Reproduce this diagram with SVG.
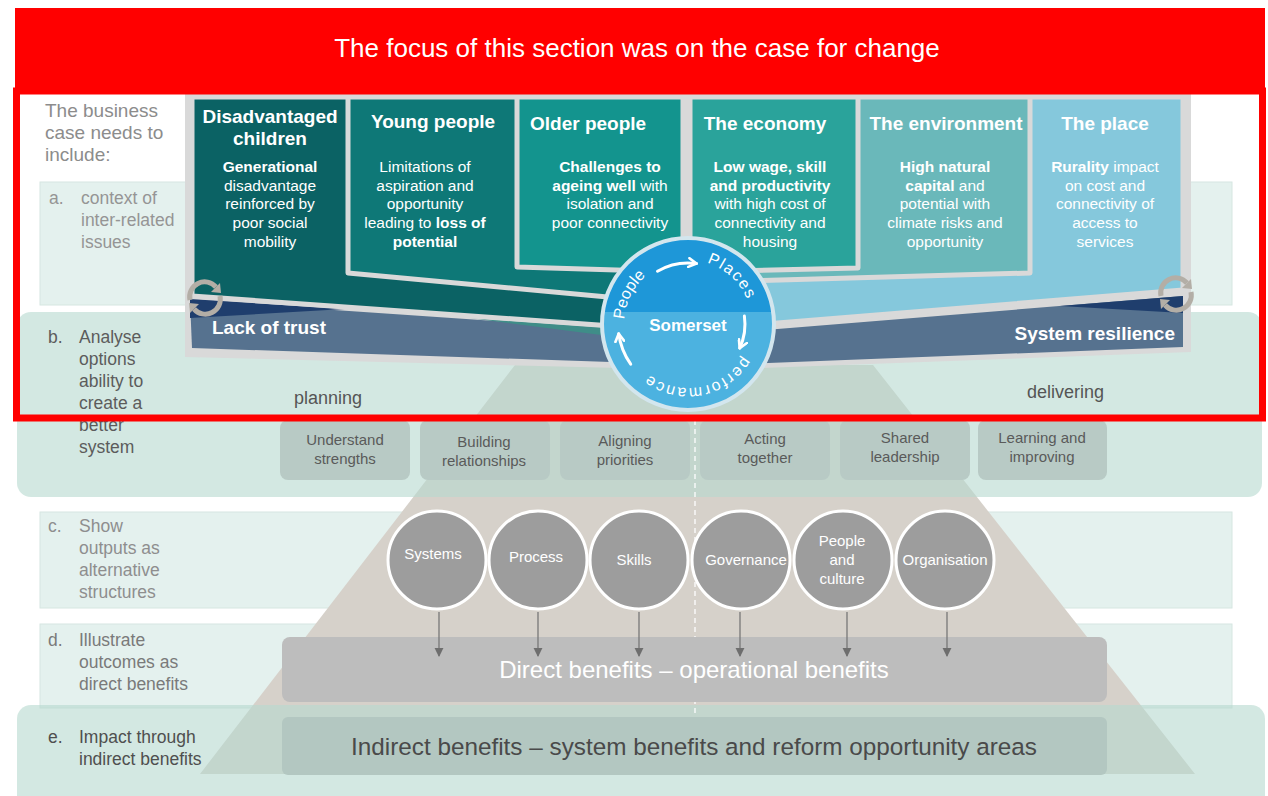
<svg xmlns="http://www.w3.org/2000/svg" width="1268" height="796" viewBox="0 0 1268 796">
<defs>
<style>
text{font-family:"Liberation Sans",Arial,sans-serif}
.hd{font-size:19px;font-weight:bold;fill:#fff}
.bd{font-size:15.5px;fill:#fff;text-anchor:middle}
.b{font-weight:bold}
.ps{fill:#b8cac5}
.pt{font-size:15px;fill:#5a5a5a;text-anchor:middle}
.oc{fill:#9d9d9d;stroke:#fff;stroke-width:3}
.ot{font-size:15px;fill:#fff;text-anchor:middle}
.col{stroke:#d9d9d9;stroke-width:5;stroke-linejoin:round}
.row{fill:#e4f1ee;stroke:#d6e6e1;stroke-width:1}
.ov{fill:#b5d9cf;opacity:0.6}
.lb{font-size:17.5px}
.rt{font-size:16px;fill:#fff}
.gl{stroke:#777;stroke-width:1.3;fill:none}
.wl{stroke:#fff;stroke-width:3;fill:none;stroke-linecap:round}
</style>
<marker id="ga" viewBox="0 0 10 10" refX="9" refY="5" markerWidth="9" markerHeight="10" markerUnits="userSpaceOnUse" orient="auto"><path d="M0,0 L10,5 L0,10 z" fill="#6e6e6e"/></marker>
<marker id="wa" viewBox="0 0 10 10" refX="8" refY="5" markerWidth="11" markerHeight="11" markerUnits="userSpaceOnUse" orient="auto"><path d="M1,1 L8,5 L1,9" fill="none" stroke="#fff" stroke-width="2.4" stroke-linecap="round" stroke-linejoin="round"/></marker>
<path id="ring" d="M 624 324 A 64 64 0 1 1 752 324 A 64 64 0 1 1 624 324" fill="none"/>
<clipPath id="cc"><circle cx="688" cy="324" r="86"/></clipPath>
<g id="rc">
<path d="M -15 2 A 15 15 0 0 1 11 -11" fill="none" stroke="#b3aea6" stroke-width="5"/>
<path d="M 15 -2 A 15 15 0 0 1 -11 11" fill="none" stroke="#b3aea6" stroke-width="5"/>
<polygon points="16,-5 15,-15 6,-6" fill="#b3aea6"/>
<polygon points="-16,5 -15,15 -6,6" fill="#b3aea6"/>
</g>
</defs>

<rect x="0" y="0" width="1268" height="796" fill="#fff"/>

<g id="rows">
<rect id="row-a" class="row" x="40" y="182" width="1192" height="123"/>
<rect id="row-c" class="row" x="40" y="512" width="1192" height="96"/>
<rect id="row-d" class="row" x="40" y="624" width="1192" height="84"/>
<polygon id="pyramid" points="515,365 873,365 1195,774 200,774" fill="#d6d1ca"/>
<rect id="row-b" class="ov" x="17" y="312" width="1245" height="185" rx="14"/>
<rect id="row-e" class="ov" x="17" y="705" width="1248" height="110" rx="14"/>
</g>

<g id="labels">
<text x="45" y="117" font-size="19" fill="#8c8c8c">The business</text>
<text x="45" y="139" font-size="19" fill="#8c8c8c">case needs to</text>
<text x="45" y="161" font-size="19" fill="#8c8c8c">include:</text>
<g class="lb" fill="#959595">
<text x="49" y="204">a.</text><text x="81" y="204">context of</text><text x="81" y="226">inter-related</text><text x="81" y="248">issues</text>
</g>
<g class="lb" fill="#5c5c5c">
<text x="48" y="343">b.</text><text x="79" y="343">Analyse</text><text x="79" y="365">options</text><text x="79" y="387">ability to</text><text x="79" y="409">create a</text><text x="79" y="431">better</text><text x="79" y="453">system</text>
</g>
<g class="lb" fill="#8e8e8e">
<text x="48" y="532">c.</text><text x="79" y="532">Show</text><text x="79" y="554">outputs as</text><text x="79" y="576">alternative</text><text x="79" y="598">structures</text>
</g>
<g class="lb" fill="#7a7a7a">
<text x="48" y="646">d.</text><text x="79" y="646">Illustrate</text><text x="79" y="668">outcomes as</text><text x="79" y="690">direct benefits</text>
</g>
<g class="lb" fill="#4f4f4f">
<text x="48" y="743">e.</text><text x="79" y="743">Impact through</text><text x="79" y="765">indirect  benefits</text>
</g>
<text x="294" y="404" font-size="18" fill="#555">planning</text>
<text x="1027" y="398" font-size="18" fill="#555">delivering</text>
</g>

<g id="steps">
<g id="step-1"><rect class="ps" x="280" y="420" width="130" height="60" rx="8"/><text class="pt" x="345" y="445">Understand</text><text class="pt" x="345" y="464">strengths</text></g>
<g id="step-2"><rect class="ps" x="420" y="420" width="130" height="60" rx="8"/><text class="pt" x="484" y="447">Building</text><text class="pt" x="484" y="466">relationships</text></g>
<g id="step-3"><rect class="ps" x="560" y="420" width="130" height="60" rx="8"/><text class="pt" x="625" y="446">Aligning</text><text class="pt" x="625" y="465">priorities</text></g>
<g id="step-4"><rect class="ps" x="700" y="420" width="130" height="60" rx="8"/><text class="pt" x="765" y="444">Acting</text><text class="pt" x="765" y="463">together</text></g>
<g id="step-5"><rect class="ps" x="840" y="420" width="130" height="60" rx="8"/><text class="pt" x="905" y="443">Shared</text><text class="pt" x="905" y="462">leadership</text></g>
<g id="step-6"><rect class="ps" x="978" y="420" width="129" height="60" rx="8"/><text class="pt" x="1042" y="443">Learning and</text><text class="pt" x="1042" y="462">improving</text></g>
</g>

<line x1="695" y1="420" x2="695" y2="714" stroke="#fff" stroke-width="1.5" stroke-dasharray="5 4" opacity="0.85"/>

<g id="benefit-direct"><rect x="282" y="637" width="825" height="65" rx="8" fill="#bdbdbd"/><text x="694" y="678" font-size="24" fill="#fff" text-anchor="middle">Direct benefits – operational benefits</text></g>
<g id="benefit-indirect"><rect x="282" y="717" width="825" height="58" rx="6" fill="#b3c7c1"/><text x="694" y="755" font-size="24.3" fill="#4a4a4a" text-anchor="middle">Indirect benefits – system benefits and reform opportunity areas</text></g>

<g id="connectors">
<line class="gl" x1="439" y1="612" x2="439" y2="656" marker-end="url(#ga)"/>
<line class="gl" x1="538" y1="612" x2="538" y2="656" marker-end="url(#ga)"/>
<line class="gl" x1="639" y1="612" x2="639" y2="656" marker-end="url(#ga)"/>
<line class="gl" x1="740" y1="612" x2="740" y2="656" marker-end="url(#ga)"/>
<line class="gl" x1="847" y1="612" x2="847" y2="656" marker-end="url(#ga)"/>
<line class="gl" x1="947" y1="612" x2="947" y2="656" marker-end="url(#ga)"/>
</g>

<g id="outputs">
<g id="out-systems"><circle class="oc" cx="437" cy="560" r="49"/><text class="ot" x="433" y="559">Systems</text></g>
<g id="out-process"><circle class="oc" cx="538" cy="560" r="49"/><text class="ot" x="536" y="562">Process</text></g>
<g id="out-skills"><circle class="oc" cx="639" cy="560" r="49"/><text class="ot" x="634" y="565">Skills</text></g>
<g id="out-governance"><circle class="oc" cx="741" cy="560" r="49"/><text class="ot" x="746" y="565">Governance</text></g>
<g id="out-people"><circle class="oc" cx="843" cy="560" r="49"/><text class="ot" x="842" y="546">People</text><text class="ot" x="842" y="565">and</text><text class="ot" x="842" y="584">culture</text></g>
<g id="out-organisation"><circle class="oc" cx="945" cy="560" r="49"/><text class="ot" x="945" y="565">Organisation</text></g>
</g>

<g id="fan">
<polygon points="185,91 1191,91 1191,352 760,368 620,368 185,357" fill="#d9d9d9"/>
<polygon points="190,300 640,331 640,363 192,348" fill="#56728f"/>
<polygon points="190,299 345,309 190,318" fill="#1f3e6d"/>
<polygon points="470,318 640,330 640,340" fill="#3f8d88"/>
<polygon points="740,332 1183,296 1183,347 740,364" fill="#56728f"/>
<polygon points="1060,306 1183,296 1183,313" fill="#1f3e6d"/>
<g id="col-children"><polygon class="col" points="192,97 640,97 640,328 192,296" fill="#0b6264"/></g>
<g id="col-young"><polygon class="col" points="348,97 640,97 640,300 348,273" fill="#0e7877"/></g>
<g id="col-older"><polygon class="col" points="517,97 683,97 683,272 517,267" fill="#13948e"/></g>
<g id="col-place"><polygon class="col" points="1035,97 1183,97 1183,290 740,326 740,97" fill="#85c8dc"/></g>
<g id="col-environment"><polygon class="col" points="863,97 1030,97 1030,273 740,281 740,97" fill="#6ab8ba"/></g>
<g id="col-economy"><polygon class="col" points="690,97 858,97 858,268 690,272" fill="#2aa39b"/></g>
<text x="212" y="334" font-size="19" font-weight="bold" fill="#fff">Lack of trust</text>
<text x="1175" y="340" font-size="19" font-weight="bold" fill="#fff" text-anchor="end">System resilience</text>
<use href="#rc" x="205" y="298"/>
<use href="#rc" x="1176" y="294"/>
</g>

<g id="col-texts">
<text class="hd" x="270" y="123" text-anchor="middle">Disadvantaged</text>
<text class="hd" x="270" y="145" text-anchor="middle">children</text>
<text class="bd b" x="270" y="172">Generational</text>
<text class="bd" x="270" y="191">disadvantage</text>
<text class="bd" x="270" y="209">reinforced by</text>
<text class="bd" x="270" y="228">poor social</text>
<text class="bd" x="270" y="247">mobility</text>

<text class="hd" x="433" y="128" text-anchor="middle">Young people</text>
<text class="bd" x="425" y="172">Limitations of</text>
<text class="bd" x="425" y="191">aspiration and</text>
<text class="bd" x="425" y="209">opportunity</text>
<text class="bd" x="425" y="228">leading to <tspan class="b">loss of</tspan></text>
<text class="bd b" x="425" y="247">potential</text>

<text class="hd" x="530" y="130">Older people</text>
<text class="bd b" x="610" y="172">Challenges to</text>
<text class="bd" x="610" y="191"><tspan class="b">ageing well</tspan> with</text>
<text class="bd" x="610" y="209">isolation and</text>
<text class="bd" x="610" y="228">poor connectivity</text>

<text class="hd" x="765" y="130" text-anchor="middle">The economy</text>
<text class="bd b" x="770" y="172">Low wage, skill</text>
<text class="bd b" x="770" y="191">and productivity</text>
<text class="bd" x="770" y="209">with high cost of</text>
<text class="bd" x="770" y="228">connectivity and</text>
<text class="bd" x="770" y="247">housing</text>

<text class="hd" x="946" y="130" text-anchor="middle">The environment</text>
<text class="bd b" x="945" y="172">High natural</text>
<text class="bd" x="945" y="191"><tspan class="b">capital</tspan> and</text>
<text class="bd" x="945" y="209">potential with</text>
<text class="bd" x="945" y="228">climate risks and</text>
<text class="bd" x="945" y="247">opportunity</text>

<text class="hd" x="1105" y="130" text-anchor="middle">The place</text>
<text class="bd" x="1105" y="172"><tspan class="b">Rurality</tspan> impact</text>
<text class="bd" x="1105" y="191">on cost and</text>
<text class="bd" x="1105" y="209">connectivity of</text>
<text class="bd" x="1105" y="228">access to</text>
<text class="bd" x="1105" y="247">services</text>
</g>

<g id="somerset">
<g clip-path="url(#cc)">
<rect x="600" y="236" width="180" height="180" fill="#4cb2e0"/>
<rect x="600" y="236" width="180" height="76" fill="#1e97d8"/>
</g>
<circle cx="688" cy="324" r="86" fill="none" stroke="#d3e6ee" stroke-width="4"/>
<text x="688" y="331" font-size="17" font-weight="bold" fill="#fff" text-anchor="middle">Somerset</text>
<text class="rt"><textPath href="#ring" startOffset="4.5">People</textPath></text>
<text class="rt" letter-spacing="1.5"><textPath href="#ring" startOffset="119.5">Places</textPath></text>
<text class="rt" letter-spacing="1.8"><textPath href="#ring" startOffset="234.6">performance</textPath></text>
<path class="wl" d="M 657.5 271.2 A 61 61 0 0 1 696.5 263.6" marker-end="url(#wa)"/>
<path class="wl" d="M 744.4 316.1 A 57 57 0 0 1 739.7 348.1" marker-end="url(#wa)"/>
<path class="wl" d="M 630.7 364.2 A 70 70 0 0 1 618.7 333.7" marker-end="url(#wa)"/>
</g>

<g id="banner">
<rect x="15" y="8" width="1250" height="86" fill="#ff0000"/>
<text x="637" y="57" font-size="26" fill="#fff" text-anchor="middle">The focus of this section was on the case for change</text>
</g>
<rect id="focus-frame" x="16.5" y="91" width="1246" height="327" fill="none" stroke="#ff0000" stroke-width="7"/>
</svg>
